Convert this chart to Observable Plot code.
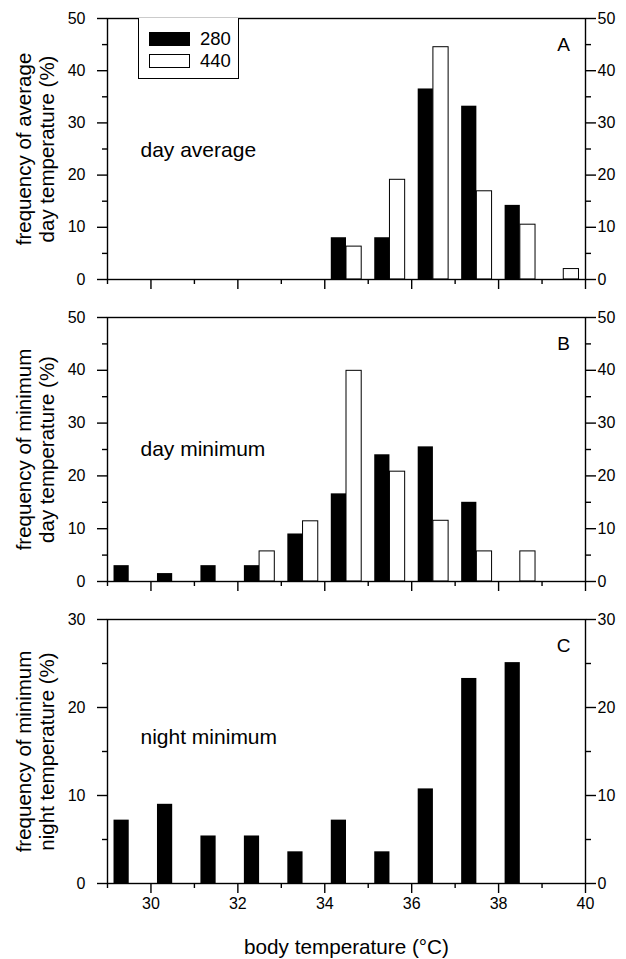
<!DOCTYPE html>
<html>
<head>
<meta charset="utf-8">
<script src="https://cdn.jsdelivr.net/npm/d3@7"></script>
<script src="https://cdn.jsdelivr.net/npm/@observablehq/plot@0.6"></script>
<style>
  body { margin: 0; background: #fff; }
  #wrap { position: relative; width: 626px; height: 959px; font-family: "Liberation Sans", Arial, sans-serif; }
  #wrap svg { position: absolute; left: 0; }
  .legend { position: absolute; left: 138px; top: 18px; width: 101px; height: 61px; border: 1px solid #000; border-top: none; box-sizing: border-box; background: #fff; }
  .sw { position: absolute; left: 10px; width: 41px; height: 14px; box-sizing: border-box; border: 1px solid #000; }
  .lab { position: absolute; left: 61px; font-size: 18.5px; line-height: 18px; }
</style>
</head>
<body>
<div id="wrap">
  <div id="legend" class="legend">
    <div class="sw" style="top:14px;background:#000"></div><div class="lab" style="top:12px">280</div>
    <div class="sw" style="top:36px;background:#fff"></div><div class="lab" style="top:34px">440</div>
  </div>
</div>
<script>
// Bins (lower edge of each 1 °C class)
const bins = [29, 30, 31, 32, 33, 34, 35, 36, 37, 38, 39];
const seriesNames = ["280", "440"];
// Panel A: day average (%)
const dayAvg280 = [0, 0, 0, 0, 0, 8.0, 8.0, 36.5, 33.2, 14.2, 0];
const dayAvg440 = [0, 0, 0, 0, 0, 6.3, 19.1, 44.5, 16.9, 10.5, 2.0];
// Panel B: day minimum (%)
const dayMin280 = [3.0, 1.5, 3.0, 3.0, 9.0, 16.6, 24.0, 25.5, 15.0, 0, 0];
const dayMin440 = [0, 0, 0, 5.7, 11.4, 39.9, 20.8, 11.5, 5.7, 5.7, 0];
// Panel C: night minimum (%)
const nightMin280 = [7.2, 9.0, 5.4, 5.4, 3.6, 7.2, 3.6, 10.75, 23.3, 25.1, 0];

const xMajor = [30, 32, 34, 36, 38, 40];
const xMinor = [29, 31, 33, 35, 37, 39];
const yMajorAB = [0, 10, 20, 30, 40, 50];
const yMinorAB = [5, 15, 25, 35, 45];
const yMajorC = [0, 10, 20, 30];
const yMinorC = [5, 15, 25];

const FONT = '"Liberation Sans", Arial, sans-serif';

function rows(vals, series) {
  return bins.map((b, i) => ({bin: b, v: vals[i], s: series})).filter(d => d.v > 0);
}

function panel({black, white, ymax, yMajor, yMinor, letter, note, ylabel, height, marginBottom, last}) {
  const marks = [
    Plot.rectY(rows(black, seriesNames[0]), {x1: d => d.bin + 0.15, x2: d => d.bin + 0.5, y1: 0, y2: "v", fill: "#000"}),
  ];
  if (white) marks.push(
    Plot.rectY(rows(white, seriesNames[1]), {x1: d => d.bin + 0.5, x2: d => d.bin + 0.85, y1: 0, y2: "v", fill: "#fff", stroke: "#000", strokeWidth: 1})
  );
  marks.push(
    Plot.frame({stroke: "#000", strokeWidth: 1.4}),
    Plot.axisY(yMajor, {anchor: "left", tickSize: 10, tickPadding: 12, fontSize: 16, label: null, strokeWidth: 1.4}),
    Plot.axisY(yMinor, {anchor: "left", tickSize: 5, text: null, label: null, strokeWidth: 1.4}),
    Plot.axisY(yMajor, {anchor: "right", tickSize: 10, tickPadding: 2, fontSize: 16, label: null, strokeWidth: 1.4}),
    Plot.axisY(yMinor, {anchor: "right", tickSize: 5, text: null, label: null, strokeWidth: 1.4}),
    Plot.axisX(xMajor, {anchor: "bottom", tickSize: 10, tickPadding: 4, fontSize: 16, label: null, text: last ? undefined : null, strokeWidth: 1.4}),
    Plot.axisX(xMinor, {anchor: "bottom", tickSize: 5, text: null, label: null, strokeWidth: 1.4}),
    Plot.text([letter], {frameAnchor: "top-right", dx: -22, dy: 26, lineAnchor: "middle", textAnchor: "middle", fontSize: 19, fill: "#000"}),
    Plot.text([note], {frameAnchor: "top-left", dx: 33, dy: last ? 118 : 132, lineAnchor: "middle", textAnchor: "start", fontSize: 21, fill: "#000"}),
    Plot.text([ylabel], {frameAnchor: "left", dx: -72, rotate: -90, lineAnchor: "middle", textAnchor: "middle", fontSize: 20.5, lineHeight: 1.12, fill: "#000"})
  );
  if (last) marks.push(
    Plot.text(["body temperature (°C)"], {frameAnchor: "bottom", dy: 64, lineAnchor: "middle", textAnchor: "middle", fontSize: 20.7, fill: "#000"})
  );
  return Plot.plot({
    width: 626,
    height,
    marginLeft: 107,
    marginRight: 41,
    marginTop: 18,
    marginBottom,
    style: {fontFamily: FONT, fontSize: "16px", color: "#000", background: "#fff", overflow: "visible"},
    x: {domain: [29, 40], axis: null},
    y: {domain: [0, ymax], axis: null},
    marks
  });
}

const wrap = document.getElementById("wrap");
const a = panel({black: dayAvg280, white: dayAvg440, ymax: 50, yMajor: yMajorAB, yMinor: yMinorAB, letter: "A", note: "day average", ylabel: "frequency of average\nday temperature (%)", height: 299, marginBottom: 20});
const b = panel({black: dayMin280, white: dayMin440, ymax: 50, yMajor: yMajorAB, yMinor: yMinorAB, letter: "B", note: "day minimum", ylabel: "frequency of minimum\nday temperature (%)", height: 302, marginBottom: 20});
const c = panel({black: nightMin280, white: null, ymax: 30, yMajor: yMajorC, yMinor: yMinorC, letter: "C", note: "night minimum", ylabel: "frequency of minimum\nnight temperature (%)", height: 358, marginBottom: 76, last: true});
a.style.top = "0px"; b.style.top = "299px"; c.style.top = "601px";
const legend = document.getElementById("legend");
wrap.insertBefore(c, legend);
wrap.insertBefore(b, c);
wrap.insertBefore(a, b);
</script>
</body>
</html>
